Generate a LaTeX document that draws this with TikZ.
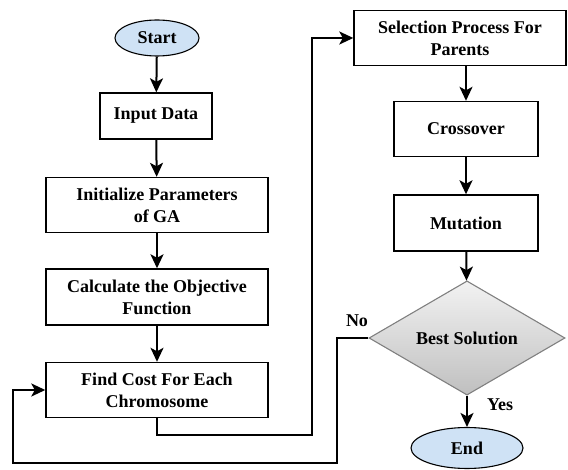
\documentclass[tikz,border=0pt]{standalone}
\usepackage{fontspec}
\setmainfont{Liberation Serif}
\usepackage{tikz}
\usetikzlibrary{shapes.geometric,arrows.meta}
\definecolor{termblue}{RGB}{207,226,245}
\tikzset{
  procbox/.style={draw, line width=1.4pt, fill=white, inner sep=0pt, align=center,
    font=\fontsize{18}{22}\selectfont\bfseries},
  term/.style={ellipse, draw, line width=1.1pt, fill=termblue, inner sep=0pt,
    font=\fontsize{18}{20}\selectfont\bfseries},
  decide/.style={diamond, draw=gray, line width=1.1pt, top color=gray!10, bottom color=gray!50,
    inner sep=0pt, minimum width=196pt, minimum height=102pt,
    font=\fontsize{18}{20}\selectfont\bfseries},
  flow/.style={line width=2pt, -{Stealth[length=14pt,width=13pt,inset=3.5pt]}},
  tag/.style={font=\fontsize{18}{20}\selectfont\bfseries}
}
\begin{document}
\begin{tikzpicture}[x=1pt, y=-1pt]
        \useasboundingbox (0,0) rectangle (568,470);
        \node (start) [term, minimum width=84pt, minimum height=36pt] at (157, 38) {Start};
        \node (input) [procbox, minimum width=112pt, minimum height=46pt] at (156, 116) {Input Data};
        \node (init) [procbox, minimum width=222pt, minimum height=55pt] at (157, 205) {Initialize Parameters\\of GA};
        \node (calc) [procbox, minimum width=222pt, minimum height=56pt] at (157, 297) {Calculate the Objective\\Function};
        \node (cost) [procbox, minimum width=222pt, minimum height=55pt] at (157, 390) {Find Cost For Each\\Chromosome};
        \node (sel) [procbox, minimum width=212pt, minimum height=55pt] at (460, 38) {Selection Process For\\Parents};
        \node (cross) [procbox, minimum width=144pt, minimum height=55pt] at (466, 129) {Crossover};
        \node (mut) [procbox, minimum width=144pt, minimum height=56pt] at (466, 223) {Mutation};
        \node (best) [decide] at (467, 338) {Best Solution};
        \node (stop) [term, minimum width=112pt, minimum height=41pt] at (467, 448) {End};
        \node (no) [tag] at (357, 321) {No};
        \node (yes) [tag] at (500, 405) {Yes};
        \coordinate (c1) at (312, 435);
        \coordinate (c2) at (337, 463);
        \coordinate (c3) at (13, 463);
        \draw [flow] (start) -- (input);
        \draw [flow] (input) -- (init);
        \draw [flow] (init) -- (calc);
        \draw [flow] (calc) -- (cost);
        \draw [flow] (cost.south) |- (c1) |- (sel.west);
        \draw [flow] (sel.south -| cross) -- (cross);
        \draw [flow] (cross) -- (mut);
        \draw [flow] (mut) -- (best);
        \draw [flow] (best) -- (stop);
        \draw [flow] (best.west) -| (c2) -- (c3) |- (cost.west);
\end{tikzpicture}
\end{document}
